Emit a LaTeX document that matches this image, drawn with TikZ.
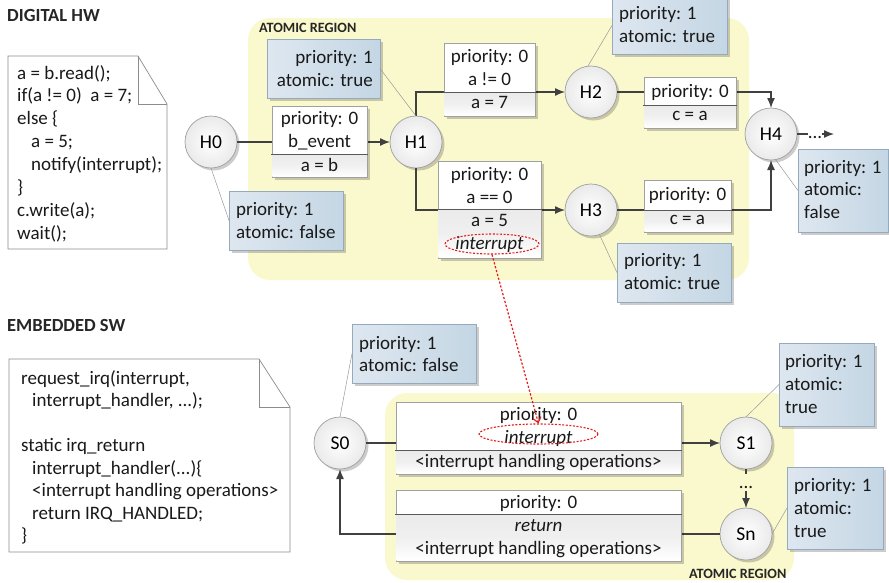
\documentclass[tikz,border=0pt]{standalone}
\usepackage{fontspec}
\setmainfont{Carlito}
\usetikzlibrary{arrows.meta,shadows,shapes.geometric}

\definecolor{regionfill}{RGB}{250,248,205}
\definecolor{notel}{RGB}{222,231,240}
\definecolor{noter}{RGB}{196,214,228}
\definecolor{noteedge}{RGB}{150,170,190}
\definecolor{wirec}{RGB}{64,64,64}
\definecolor{boxedge}{RGB}{160,160,160}
\definecolor{stategray}{RGB}{234,234,234}
\definecolor{irqred}{RGB}{228,28,28}

\tikzset{
  txt/.style={font=\fontsize{19}{22}\selectfont, inner sep=0pt, text=black!90},
  title/.style={font=\fontsize{18.5}{22}\selectfont\bfseries, inner sep=0pt, anchor=base west, text=black!85},
  regiontitle/.style={font=\fontsize{14.2}{16}\selectfont\bfseries, inner sep=0pt, anchor=base west, text=black!85},
  region/.style={fill=regionfill, rounded corners=22pt},
  softshadow/.style={drop shadow={shadow xshift=2.5pt, shadow yshift=-2.5pt, fill=black, opacity=0.2}},
  state/.style={circle, minimum size=52pt, inner sep=0pt, outer sep=0pt, draw=boxedge,
    line width=0.7pt, inner color=white, outer color=stategray, softshadow,
    font=\fontsize{19.5}{22}\selectfont},
  tbox/.style={rectangle, anchor=north west, inner sep=0pt, outer sep=0pt, draw=boxedge,
    fill=white, line width=0.7pt, softshadow},
  note/.style={rectangle, anchor=north west, inner sep=0pt, outer sep=0pt, draw=noteedge,
    left color=notel, right color=noter, line width=0.6pt, softshadow},
  compartment/.style={top color=black!8, bottom color=white, middle color=black!6},
  divider/.style={draw=black!65, line width=0.9pt},
  link/.style={draw=wirec, line width=1.3pt},
  wire/.style={link, -{Latex[length=10pt,width=8pt]}},
  pinline/.style={draw=black!40, line width=0.5pt},
  codenote/.style={draw=black!45, line width=0.7pt, fill=white},
  irqmark/.style={ellipse, inner sep=0pt, draw=irqred, line width=1.1pt, dash pattern=on 2pt off 1.6pt},
  irqlink/.style={draw=irqred, line width=1.2pt, dash pattern=on 2.2pt off 1.8pt,
    -{Straight Barb[length=5pt,width=8pt]}},
}

% a column of text lines: name, x, first baseline, line step, anchor, lines
\newcommand\textlines[6]{%
  \foreach \ln [count=\i] in {#6}{%
    \node[txt, anchor=#5] (#1-\i) at (#2,{#3+(\i-1)*#4}) {\ln};}}
\newcommand\ind{\hspace*{14pt}}
\newcommand\swind{\hspace*{11pt}}
\newcommand\threedots{.\kern0pt.\kern0pt.}

\begin{document}
\begin{tikzpicture}[x=1pt, y=-1pt]
\useasboundingbox (0,0) rectangle (889,582);

% ---------------- regions and titles ----------------
\fill[region] (248,18) rectangle (749,280);
\fill[region] (385,393) rectangle (794,580);
\node[title] (hwtitle) at (7,21) {DIGITAL HW};
\node[title] (swtitle) at (7,331) {EMBEDDED SW};
\node[regiontitle] (hwregion) at (259,32) {ATOMIC REGION};
\node[regiontitle] (swregion) at (689,578) {ATOMIC REGION};

% ---------------- source code notes ----------------
\draw[codenote] (8,56) -- (138,56) -- (167,104) -- (167,249) -- (8,249) -- cycle;
\draw[codenote, fill=none] (138,56) -- (138,104) -- (167,104);
\textlines{hwcode}{17}{79}{22.9}{base west}{
  a = b.read();, if(a != 0)\ \ a = 7;, else \{, \ind a = 5;,
  \ind notify(interrupt);, \}, c.write(a);, wait();}

\draw[codenote] (9,359) -- (259,359) -- (290,407) -- (290,552) -- (9,552) -- cycle;
\draw[codenote, fill=none] (259,359) -- (259,407) -- (290,407);
\textlines{swcode}{21}{384}{22.5}{base west}{
  {request\_irq(interrupt,}, {\swind interrupt\_handler, \threedots);}, {},
  static irq\_return, \swind interrupt\_handler(\threedots)\{,
  \swind <interrupt handling operations>, \swind return IRQ\_HANDLED;, \}}

% ---------------- states ----------------
\node[state] (H0) at (211,142) {H0};
\node[state] (H1) at (416,142) {H1};
\node[state] (H2) at (591,92) {H2};
\node[state] (H3) at (591,210) {H3};
\node[state] (H4) at (771,134) {H4};
\node[state] (S0) at (340,443) {S0};
\node[state] (S1) at (746,443) {S1};
\node[state] (Sn) at (746,534) {Sn};

% ---------------- transitions ----------------
\draw[wire] (H0.east) -- (H1.west);
\draw[wire] (H1.north) |- (H2.west);
\draw[wire] (H1.south) |- (H3.west);
\draw[wire] (H2.east) -| (H4.north);
\draw[wire] (H3.east) -| (H4.south);
\draw[wire] (S0.east) -- (S1.west);
\draw[wire] (Sn.west) -| (S0.south);

\coordinate (h4out) at (808,134);
\coordinate (h4next) at (822,134);
\coordinate (h4end) at (834,134);
\node[txt, anchor=base] (h4dots) at (815,138) {\threedots};
\draw[link] (H4.east) -- (h4out);
\draw[wire] (h4next) -- (h4end);

\coordinate (s1out) at (746,474);
\coordinate (snin) at (746,491);
\node[txt, anchor=base] (sdots) at (746,488) {\threedots};
\draw[link] (S1.south) -- (s1out);
\draw[wire] (snin) -- (Sn.north);

% ---------------- notes with their pins ----------------
\node[note, minimum width=113pt, minimum height=59pt] (nH1) at (267,39) {};
\node[note, minimum width=114pt, minimum height=59pt] (nH0) at (229,191) {};
\node[note, minimum width=115pt, minimum height=57pt] (nH2) at (612,-3) {};
\node[note, minimum width=114pt, minimum height=59pt] (nH3) at (617,243) {};
\node[note, minimum width=90pt, minimum height=83pt] (nH4) at (798,149) {};
\node[note, minimum width=124pt, minimum height=59pt] (nS0) at (352,324) {};
\node[note, minimum width=95pt, minimum height=83pt] (nS1) at (779,343) {};
\node[note, minimum width=96pt, minimum height=82pt] (nSn) at (787,467) {};

\draw[pinline] (nH1.east) -- (H1.north);
\draw[pinline] (H0.south) -- (nH0.west);
\draw[pinline] (nH2.west) -- (H2.97);
\draw[pinline] (H3.-71) -- (nH3.west);
\draw[pinline] (H4.-80) -- (nH4.west);
\draw[pinline] (nS0.west) -- (S0.north);
\draw[pinline] (S1.north) -- (nS1.west);
\draw[pinline] (Sn.east) -- (nSn.west);

\textlines{nH1t}{373}{63}{23}{base east}{priority: 1, atomic: true}
\textlines{nH0t}{236}{215}{23}{base west}{priority: 1, atomic: false}
\textlines{nH2t}{619}{19}{23}{base west}{priority: 1, atomic: true}
\textlines{nH3t}{624}{266}{23}{base west}{priority: 1, atomic: true}
\textlines{nH4t}{804}{173}{22.8}{base west}{priority: 1, atomic:, false}
\textlines{nS0t}{359}{349}{22}{base west}{priority: 1, atomic: false}
\textlines{nS1t}{785}{367}{23}{base west}{priority: 1, atomic:, true}
\textlines{nSnt}{794}{491}{23}{base west}{priority: 1, atomic:, true}

% ---------------- transition boxes ----------------
% H0 -> H1
\node[tbox, minimum width=95pt, minimum height=71pt] (t01) at (272,106) {};
\shade[compartment] (272.4,154) rectangle (366.6,176.6);
\draw[divider] (271,154) -- (368,154);
\textlines{t01t}{319.5}{124}{23.5}{base}{priority: 0, b\_event, a = b}

% H1 -> H2
\node[tbox, minimum width=91pt, minimum height=73pt] (t12) at (444,43) {};
\shade[compartment] (444.4,92) rectangle (534.6,115.6);
\draw[divider] (443,92) -- (536,92);
\textlines{t12t}{489.5}{62}{23}{base}{priority: 0, a != 0, a = 7}

% H1 -> H3
\node[tbox, minimum width=103pt, minimum height=97pt] (t13) at (438,161) {};
\shade[compartment] (438.4,209) rectangle (540.6,257.6);
\draw[divider] (437,209) -- (542,209);
\textlines{t13t}{489.5}{180}{23.3}{base}{priority: 0, a == 0, a = 5, \itshape interrupt}
\node[irqmark, minimum width=94pt, minimum height=20pt] (irqhw) at (492,244) {};

% H2 -> H4
\node[tbox, minimum width=92pt, minimum height=51pt] (t24) at (644,77) {};
\shade[compartment] (644.4,105) rectangle (735.6,127.6);
\draw[divider] (643,105) -- (737,105);
\textlines{t24t}{690}{97}{23}{base}{priority: 0, c = a}

% H3 -> H4
\node[tbox, minimum width=87pt, minimum height=52pt] (t34) at (644,180) {};
\shade[compartment] (644.4,210) rectangle (730.6,231.6);
\draw[divider] (643,210) -- (732,210);
\textlines{t34t}{687.5}{200}{24}{base}{priority: 0, c = a}

% S0 -> S1
\node[tbox, minimum width=285pt, minimum height=72pt] (ts01) at (396,402) {};
\shade[compartment] (396.4,450) rectangle (680.6,473.6);
\draw[divider] (395,450) -- (682,450);
\textlines{ts01t}{538.5}{420}{23.5}{base}{priority: 0, \itshape interrupt, <interrupt handling operations>}
\node[irqmark, minimum width=119pt, minimum height=20pt] (irqsw) at (538.5,434) {};

% Sn -> S0
\node[tbox, minimum width=285pt, minimum height=71pt] (tsn0) at (396,490) {};
\shade[compartment] (396.4,514) rectangle (680.6,560.6);
\draw[divider] (395,514) -- (682,514);
\textlines{tsn0t}{538.5}{508}{23}{base}{priority: 0, \itshape return, <interrupt handling operations>}

% ---------------- interrupt notification ----------------
\draw[irqlink] (irqhw.south) -- (irqsw.north);

\end{tikzpicture}
\end{document}
